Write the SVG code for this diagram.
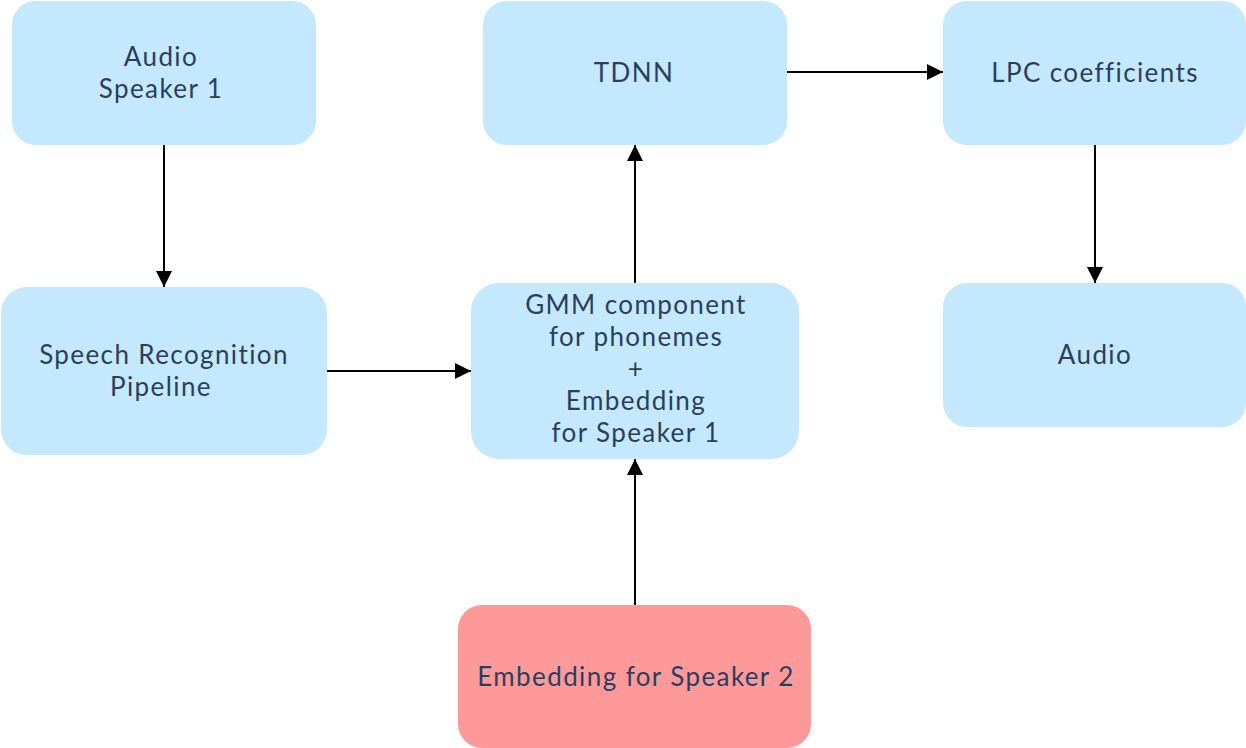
<svg xmlns="http://www.w3.org/2000/svg" width="1246" height="748" viewBox="0 0 1246 748">
<style>
.n{fill:#C4E8FD}
.p{fill:#FE9999}
.t{font-family:Lato,"Open Sans",sans-serif;font-size:26px;letter-spacing:1.4px;fill:#2A3F5F;text-anchor:middle;dominant-baseline:central}
.c{stroke:#000;stroke-width:2;fill:none;marker-end:url(#a)}
</style>
<defs>
<marker id="a" viewBox="0 0 16 16" refX="16" refY="8" markerWidth="16" markerHeight="16" markerUnits="userSpaceOnUse" orient="auto">
<path d="M0,0 L16,8 L0,16 Z" fill="#000"/>
</marker>
</defs>
<g id="connectors">
<line class="c" x1="164" y1="145" x2="164" y2="287"/>
<line class="c" x1="327" y1="371" x2="471" y2="371"/>
<line class="c" x1="635" y1="283" x2="635" y2="145"/>
<line class="c" x1="635" y1="605" x2="635" y2="459"/>
<line class="c" x1="787" y1="72" x2="943" y2="72"/>
<line class="c" x1="1095" y1="145" x2="1095" y2="283"/>
</g>
<g id="audio-speaker-1">
<rect class="n" x="12" y="1" width="304" height="144" rx="24"/>
<text class="t" x="161" y="56">Audio</text>
<text class="t" x="161" y="88">Speaker 1</text>
</g>
<g id="tdnn">
<rect class="n" x="483" y="1" width="304" height="144" rx="24"/>
<text class="t" x="634" y="72">TDNN</text>
</g>
<g id="lpc">
<rect class="n" x="943" y="1" width="303" height="144" rx="24"/>
<text class="t" x="1095" y="72">LPC coefficients</text>
</g>
<g id="speech-recognition">
<rect class="n" x="1" y="287" width="326" height="168" rx="26"/>
<text class="t" x="164" y="354">Speech Recognition</text>
<text class="t" x="161" y="386">Pipeline</text>
</g>
<g id="gmm">
<rect class="n" x="471" y="283" width="328" height="176" rx="28"/>
<text class="t" x="636" y="304">GMM component</text>
<text class="t" x="636" y="336">for phonemes</text>
<text class="t" x="636" y="368">+</text>
<text class="t" x="636" y="400">Embedding</text>
<text class="t" x="636" y="432">for Speaker 1</text>
</g>
<g id="audio">
<rect class="n" x="943" y="283" width="303" height="144" rx="24"/>
<text class="t" x="1095" y="354">Audio</text>
</g>
<g id="embedding-speaker-2">
<rect class="p" x="458" y="605" width="353" height="143" rx="24"/>
<text class="t" x="636" y="676">Embedding for Speaker 2</text>
</g>
</svg>
